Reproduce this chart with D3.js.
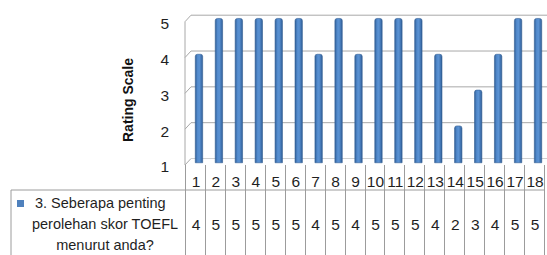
<!DOCTYPE html>
<html>
<head>
<meta charset="utf-8">
<script src="https://cdn.jsdelivr.net/npm/d3@7"></script>
<style>
  body { margin: 0; background: #fff; }
  svg { display: block; }
</style>
</head>
<body>
<div id="container"></div>
<script>
// chart data
const categories = ["1","2","3","4","5","6","7","8","9","10","11","12","13","14","15","16","17","18"];
const values = [4, 5, 5, 5, 5, 5, 4, 5, 4, 5, 5, 5, 4, 2, 3, 4, 5, 5];
const yTicks = [1, 2, 3, 4, 5];
const seriesLines = ["3. Seberapa penting", "perolehan skor TOEFL", "menurut anda?"];
const yTitle = "Rating Scale";

const width = 547;
const height = 255;
const plotLeft = 186;
const plotRight = 545;
const floorY = 165;
const topY = 21.7;
const depthX = 6;    // 3D depth offset of back wall
const depthY = -6.5;
const tableTop = 190;
const legendLeft = 11;

const font = "'Liberation Sans', Arial, sans-serif";
const gridColor = "#a8a8a8";
const textColor = "#1f1f1f";

const svg = d3.select("#container")
  .append("svg")
  .attr("width", width)
  .attr("height", height);

const x = d3.scaleBand()
  .domain(categories)
  .range([plotLeft, plotRight]);

const y = d3.scaleLinear()
  .domain([1, 5])
  .range([floorY, topY]);

// bar gradient (cylinder-ish shading)
const grad = svg.append("defs").append("linearGradient")
  .attr("id", "barGrad")
  .attr("x1", "0").attr("x2", "1").attr("y1", "0").attr("y2", "0");
[["0%", "#2f5e96"], ["30%", "#5189cb"], ["55%", "#5a92d3"], ["85%", "#3e70ad"], ["100%", "#2c5a90"]]
  .forEach(([o, c]) => grad.append("stop").attr("offset", o).attr("stop-color", c));

// back wall gridlines + slanted side wall edges
const walls = svg.append("g").attr("fill", "none").attr("stroke", gridColor).attr("stroke-width", 1);
yTicks.forEach(t => {
  if (t === 1) return;
  walls.append("line")
    .attr("x1", plotLeft - 1 + depthX).attr("x2", width)
    .attr("y1", y(t) + depthY).attr("y2", y(t) + depthY);
  walls.append("line")
    .attr("x1", plotLeft - 1).attr("x2", plotLeft - 1 + depthX)
    .attr("y1", y(t)).attr("y2", y(t) + depthY);
});
// left wall front edge
walls.append("line")
  .attr("x1", plotLeft - 1).attr("x2", plotLeft - 1)
  .attr("y1", y(5)).attr("y2", floorY);
// floor
walls.append("line")
  .attr("x1", plotLeft - 1).attr("x2", plotLeft - 1 + depthX)
  .attr("y1", floorY).attr("y2", floorY + depthY);
walls.append("line")
  .attr("x1", plotLeft - 1 + depthX).attr("x2", width)
  .attr("y1", floorY + depthY).attr("y2", floorY + depthY)
  .attr("stroke", "#d0d0d0");

// bars, placed at mid depth
const barW = x.bandwidth() * 0.37;
const midX = depthX / 2;
const midY = depthY / 2;
svg.append("g")
  .selectAll("path")
  .data(values)
  .join("path")
  .attr("d", (d, i) => {
    const x0 = x(categories[i]) + x.bandwidth() / 2 - barW / 2 + midX;
    const x1 = x0 + barW;
    const top = y(d) + midY;
    const bottom = floorY + midY + 1;
    const r = 2.2;
    return `M${x0},${bottom} L${x0},${top + r} Q${x0},${top} ${x0 + r},${top} L${x1 - r},${top} Q${x1},${top} ${x1},${top + r} L${x1},${bottom} Z`;
  })
  .attr("fill", "url(#barGrad)")
  .attr("stroke", "#345f95")
  .attr("stroke-width", 0.6);

// y axis labels
const yAxis = svg.append("g")
  .attr("transform", `translate(${plotLeft - 1},2)`)
  .call(d3.axisLeft(y).tickValues(yTicks).tickSize(0).tickPadding(16).tickFormat(d3.format("d")));
yAxis.select(".domain").remove();
yAxis.selectAll("text")
  .attr("font-family", font)
  .attr("font-size", 15.5)
  .attr("fill", textColor);

// y axis title
svg.append("text")
  .attr("transform", `translate(133,100) rotate(-90)`)
  .attr("text-anchor", "middle")
  .attr("font-family", font)
  .attr("font-size", 14)
  .attr("font-weight", "bold")
  .attr("fill", "#111")
  .text(yTitle);

// data table
const table = svg.append("g").attr("stroke", "#9c9c9c").attr("stroke-width", 1);
table.append("line")
  .attr("x1", legendLeft).attr("x2", plotRight)
  .attr("y1", tableTop).attr("y2", tableTop);
table.append("line")
  .attr("x1", legendLeft).attr("x2", legendLeft)
  .attr("y1", tableTop).attr("y2", height);
table.selectAll("line.col")
  .data(categories.concat(["end"]))
  .join("line")
  .attr("class", "col")
  .attr("x1", (d, i) => Math.round(plotLeft + i * x.bandwidth()) - 0.5)
  .attr("x2", (d, i) => Math.round(plotLeft + i * x.bandwidth()) - 0.5)
  .attr("y1", floorY)
  .attr("y2", height);

// category labels
svg.append("g")
  .selectAll("text")
  .data(categories)
  .join("text")
  .attr("x", d => x(d) + x.bandwidth() / 2)
  .attr("y", 187)
  .attr("text-anchor", "middle")
  .attr("font-family", font)
  .attr("font-size", 15.5)
  .attr("fill", textColor)
  .text(d => d);

// values row
svg.append("g")
  .selectAll("text")
  .data(values)
  .join("text")
  .attr("x", (d, i) => x(categories[i]) + x.bandwidth() / 2)
  .attr("y", 230)
  .attr("text-anchor", "middle")
  .attr("font-family", font)
  .attr("font-size", 15.5)
  .attr("fill", textColor)
  .text(d => d);

// legend cell
svg.append("rect")
  .attr("x", 17).attr("y", 200)
  .attr("width", 7).attr("height", 7)
  .attr("fill", "#4f81bd");
svg.append("g")
  .selectAll("text")
  .data(seriesLines)
  .join("text")
  .attr("x", (d, i) => i === 0 ? 35 : 105)
  .attr("y", (d, i) => 208 + i * 21)
  .attr("text-anchor", (d, i) => i === 0 ? "start" : "middle")
  .attr("font-family", font)
  .attr("font-size", 14.5)
  .attr("fill", textColor)
  .text(d => d);
</script>
</body>
</html>
